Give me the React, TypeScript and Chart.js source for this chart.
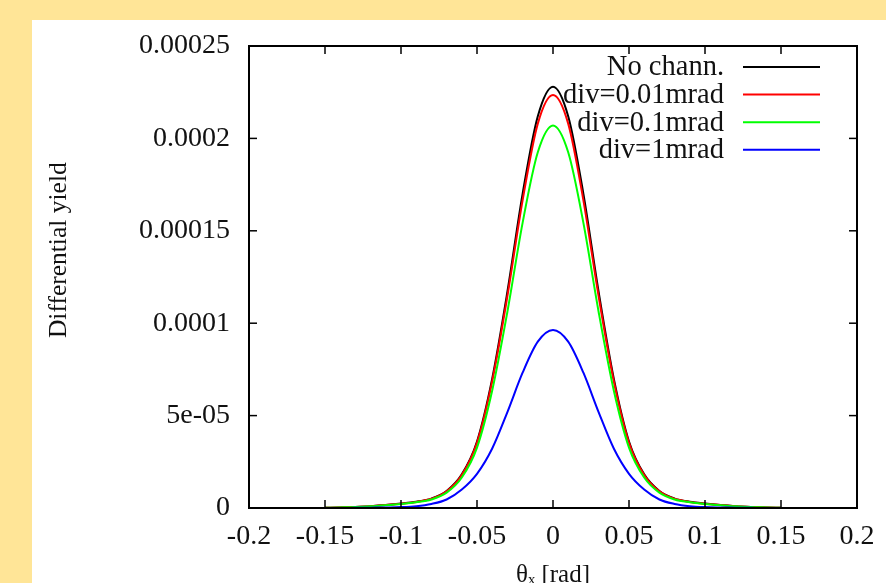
import React, { useEffect, useRef } from "react";
import { Chart, registerables } from "chart.js";

Chart.register(...registerables);

const xValues = [
  -0.15, -0.14, -0.13, -0.12, -0.11, -0.1, -0.09, -0.08, -0.07, -0.06, -0.05, -0.04, -0.03, -0.02, -0.01,
  0,
  0.01, 0.02, 0.03, 0.04, 0.05, 0.06, 0.07, 0.08, 0.09, 0.1, 0.11, 0.12, 0.13, 0.14, 0.15,
];

const noChann = [
  1e-7, 3e-7, 6e-7, 1.0e-6, 1.6e-6, 2.4e-6, 3.4e-6, 5.1e-6, 9.2e-6, 1.82e-5, 3.6e-5, 7.0e-5, 1.17e-4, 1.7e-4, 2.12e-4,
  2.28e-4,
  2.12e-4, 1.7e-4, 1.17e-4, 7.0e-5, 3.6e-5, 1.82e-5, 9.2e-6, 5.1e-6, 3.4e-6, 2.4e-6, 1.6e-6, 1.0e-6, 6e-7, 3e-7, 1e-7,
];

const div001 = [
  1e-7, 3e-7, 6e-7, 1.0e-6, 1.6e-6, 2.3e-6, 3.3e-6, 5.0e-6, 9.0e-6, 1.78e-5, 3.53e-5, 6.86e-5, 1.147e-4, 1.665e-4, 2.08e-4,
  2.235e-4,
  2.08e-4, 1.665e-4, 1.147e-4, 6.86e-5, 3.53e-5, 1.78e-5, 9.0e-6, 5.0e-6, 3.3e-6, 2.3e-6, 1.6e-6, 1.0e-6, 6e-7, 3e-7, 1e-7,
];

const div01 = [
  1e-7, 3e-7, 5e-7, 9e-7, 1.5e-6, 2.2e-6, 3.1e-6, 4.6e-6, 8.3e-6, 1.65e-5, 3.27e-5, 6.36e-5, 1.062e-4, 1.543e-4, 1.925e-4,
  2.07e-4,
  1.925e-4, 1.543e-4, 1.062e-4, 6.36e-5, 3.27e-5, 1.65e-5, 8.3e-6, 4.6e-6, 3.1e-6, 2.2e-6, 1.5e-6, 9e-7, 5e-7, 3e-7, 1e-7,
];

const div1 = [
  0, 0, 1e-7, 2e-7, 3e-7, 5e-7, 1.0e-6, 2.2e-6, 4.6e-6, 1.0e-5, 1.85e-5, 3.22e-5, 5.19e-5, 7.32e-5, 9.0e-5,
  9.63e-5,
  9.0e-5, 7.32e-5, 5.19e-5, 3.22e-5, 1.85e-5, 1.0e-5, 4.6e-6, 2.2e-6, 1.0e-6, 5e-7, 3e-7, 2e-7, 1e-7, 0, 0,
];

const seriesLabels = ["No chann.", "div=0.01mrad", "div=0.1mrad", "div=1mrad"];
const seriesColors = ["#000000", "#ff0000", "#00ff00", "#0000ff"];

const xTickLabels = ["-0.2", "-0.15", "-0.1", "-0.05", "0", "0.05", "0.1", "0.15", "0.2"];
const yTickLabels = ["0", "5e-05", "0.0001", "0.00015", "0.0002", "0.00025"];

const xTitle = "\u03b8\u2093 [rad]";
const yTitle = "Differential yield";

const FONT = "'Liberation Serif', 'Times New Roman', serif";
const TEXT_COLOR = "#111";

const framePlugin = {
  id: "gnuplotFrame",
  afterDatasetsDraw(chart: any) {
    const { ctx, chartArea } = chart;
    const { left, right, top, bottom } = chartArea;
    const xs = chart.scales.x;
    const ys = chart.scales.y;
    ctx.save();
    ctx.strokeStyle = "#000";
    ctx.lineWidth = 2;
    ctx.strokeRect(left, top, right - left, bottom - top);
    ctx.lineWidth = 1.5;
    const len = 8;
    const seg = (x1: number, y1: number, x2: number, y2: number) => {
      ctx.beginPath();
      ctx.moveTo(x1, y1);
      ctx.lineTo(x2, y2);
      ctx.stroke();
    };
    xs.ticks.forEach((t: any) => {
      const px = xs.getPixelForValue(t.value);
      seg(px, bottom, px, bottom - len);
      seg(px, top, px, top + len);
    });
    ys.ticks.forEach((t: any) => {
      const py = ys.getPixelForValue(t.value);
      seg(left, py, left + len, py);
      seg(right, py, right - len, py);
    });
    ctx.restore();
  },
  afterDraw(chart: any) {
    const { ctx, chartArea } = chart;
    const { right, top, bottom } = chartArea;
    ctx.save();
    // y axis title (gnuplot places it a bit above the axis centre)
    ctx.font = `25.5px ${FONT}`;
    ctx.fillStyle = TEXT_COLOR;
    ctx.textAlign = "center";
    ctx.textBaseline = "middle";
    ctx.translate(27, top + (bottom - top) * 0.442);
    ctx.rotate(-Math.PI / 2);
    ctx.fillText(yTitle, 0, 0);
    ctx.restore();

    ctx.save();
    ctx.font = `28.5px ${FONT}`;
    ctx.textAlign = "right";
    ctx.textBaseline = "middle";
    chart.data.datasets.forEach((ds: any, i: number) => {
      const yy = top + 21 + i * 27.6;
      ctx.fillStyle = TEXT_COLOR;
      ctx.fillText(ds.label, right - 133, yy + 1);
      ctx.strokeStyle = ds.borderColor;
      ctx.lineWidth = 2;
      ctx.beginPath();
      ctx.moveTo(right - 114, yy);
      ctx.lineTo(right - 37, yy);
      ctx.stroke();
    });
    ctx.restore();
  },
};

export default function App() {
  const canvasRef = useRef<HTMLCanvasElement | null>(null);

  useEffect(() => {
    const canvas = canvasRef.current;
    if (!canvas) return;
    const seriesData = [noChann, div001, div01, div1];
    const chart = new Chart(canvas, {
      type: "line",
      data: {
        datasets: seriesData.map((arr, i) => ({
          label: seriesLabels[i],
          data: xValues.map((x, j) => ({ x, y: arr[j] })),
          borderColor: seriesColors[i],
          backgroundColor: seriesColors[i],
          borderWidth: 2,
          pointRadius: 0,
          fill: false,
          cubicInterpolationMode: "monotone" as const,
          order: 3 - i,
        })),
      },
      options: {
        animation: false,
        responsive: false,
        devicePixelRatio: 1,
        layout: { padding: { top: 26, right: 29, left: 0, bottom: 0 } },
        plugins: {
          legend: { display: false },
          tooltip: { enabled: false },
        },
        scales: {
          x: {
            type: "linear",
            min: -0.2,
            max: 0.2,
            grid: { display: false, drawTicks: false },
            border: { display: false },
            ticks: {
              stepSize: 0.05,
              autoSkip: false,
              maxRotation: 0,
              padding: 12,
              color: TEXT_COLOR,
              font: { family: FONT, size: 28 },
              callback: (_v: any, i: number) => xTickLabels[i],
            },
            title: {
              display: true,
              text: xTitle,
              color: TEXT_COLOR,
              font: { family: FONT, size: 25 },
              padding: { top: 0, bottom: 30 },
            },
            afterFit: (s: any) => {
              s.height = 112;
              s.paddingLeft = 0;
              s.paddingRight = 0;
            },
          },
          y: {
            type: "linear",
            min: 0,
            max: 0.00025,
            grid: { display: false, drawTicks: false },
            border: { display: false },
            ticks: {
              stepSize: 0.00005,
              padding: 19,
              color: TEXT_COLOR,
              font: { family: FONT, size: 28 },
              callback: (_v: any, i: number) => yTickLabels[i],
            },
            title: { display: false },
            afterFit: (s: any) => {
              s.width = 217;
              s.paddingTop = 0;
              s.paddingBottom = 0;
            },
          },
        },
      },
      plugins: [framePlugin],
    });
    return () => chart.destroy();
  }, []);

  return (
    <div
      style={{
        position: "fixed",
        left: 0,
        top: 0,
        width: 886,
        height: 583,
        background: "#FFE597",
        overflow: "hidden",
      }}
    >
      <div
        style={{
          position: "absolute",
          left: 32,
          top: 20,
          width: 854,
          height: 600,
          background: "#ffffff",
        }}
      >
        <canvas ref={canvasRef} width={854} height={600} style={{ display: "block", width: 854, height: 600 }} />
      </div>
    </div>
  );
}
